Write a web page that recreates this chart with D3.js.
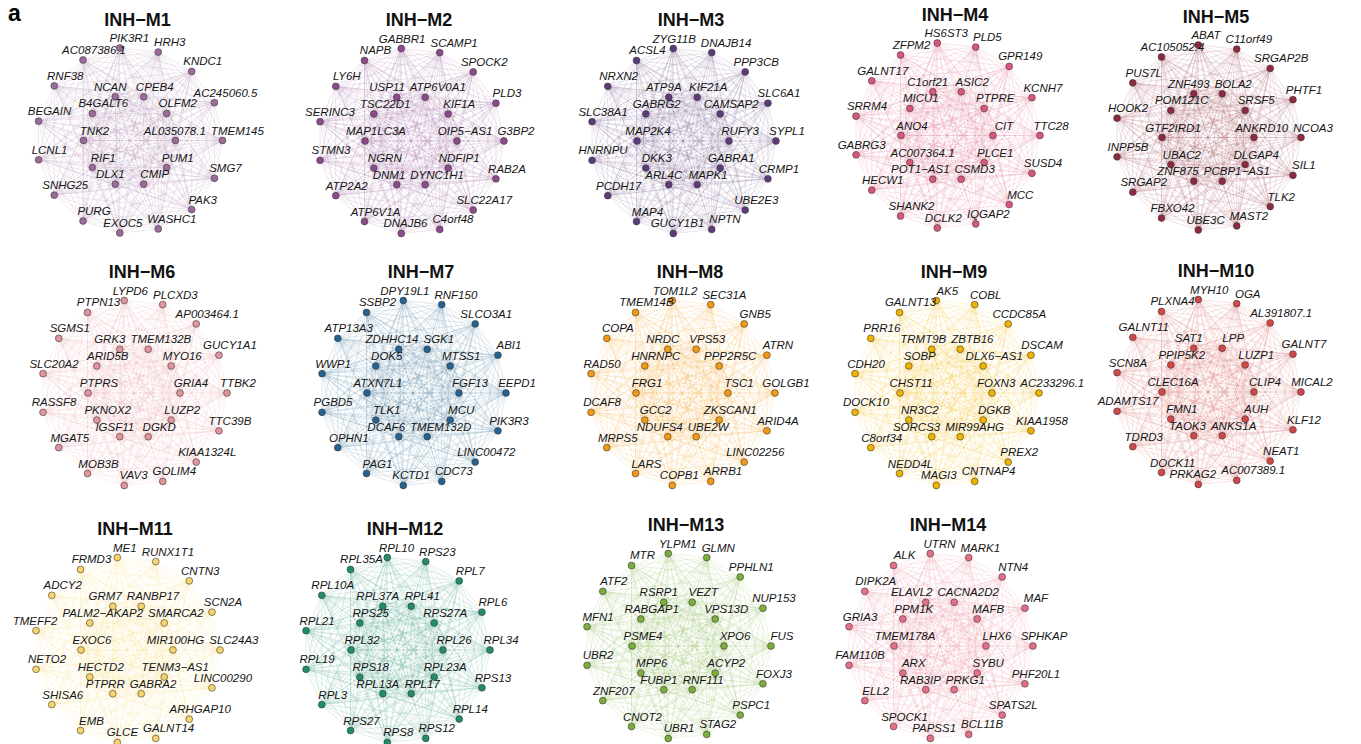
<!DOCTYPE html>
<html>
<head>
  <meta charset="utf-8">
  <style>
    body { margin: 0; background: #fff; font-family: "Liberation Sans", Arial, sans-serif; }
    .edge { fill: none; stroke-width: 0.6px; stroke-opacity: 0.25; }
    .node { stroke: #3a3a3a; stroke-width: 0.6px; }
    .label { font-size: 11.5px; font-style: italic; fill: #151515; text-anchor: middle; }
    .title { font-size: 18px; font-weight: bold; fill: #111; text-anchor: middle; }
  </style>
  <script src="https://d3js.org/d3.v7.min.js"></script>
</head>
<body>
<script>
// module names and colours
const modules = ['INH−M1','INH−M2','INH−M3','INH−M4','INH−M5','INH−M6','INH−M7',
  'INH−M8','INH−M9','INH−M10','INH−M11','INH−M12','INH−M13','INH−M14'];
const moduleColors = ['#9c6b9c','#8c4a8c','#5e3a78','#d9577a','#8e2a3e','#e3939c','#26628f',
  '#f39a12','#f0b400','#d24848','#f7d46a','#1f8c6c','#7cae3c','#e56f86'];

// outer ring genes, clockwise from the top
const outerGenes = [
  ['PIK3R1','HRH3','KNDC1','AC245060.5','TMEM145','SMG7','PAK3','WASHC1','EXOC5','PURG','SNHG25','LCNL1','BEGAIN','RNF38','AC087386.1'],
  ['GABBR1','SCAMP1','SPOCK2','PLD3','G3BP2','RAB2A','SLC22A17','C4orf48','DNAJB6','ATP6V1A','ATP2A2','STMN3','SERINC3','LY6H','NAPB'],
  ['ZYG11B','DNAJB14','PPP3CB','SLC6A1','SYPL1','CRMP1','UBE2E3','NPTN','GUCY1B1','MAP4','PCDH17','HNRNPU','SLC38A1','NRXN2','ACSL4'],
  ['HS6ST3','PLD5','GPR149','KCNH7','TTC28','SUSD4','MCC','IQGAP2','DCLK2','SHANK2','HECW1','GABRG3','SRRM4','GALNT17','ZFPM2'],
  ['ABAT','C11orf49','SRGAP2B','PHTF1','NCOA3','SIL1','TLK2','MAST2','UBE3C','FBXO42','SRGAP2','INPP5B','HOOK2','PUS7L','AC105052.4'],
  ['LYPD6','PLCXD3','AP003464.1','GUCY1A1','TTBK2','TTC39B','KIAA1324L','GOLIM4','VAV3','MOB3B','MGAT5','RASSF8','SLC20A2','SGMS1','PTPN13'],
  ['DPY19L1','RNF150','SLCO3A1','ABI1','EEPD1','PIK3R3','LINC00472','CDC73','KCTD1','PAG1','OPHN1','PGBD5','WWP1','ATP13A3','SSBP2'],
  ['TOM1L2','SEC31A','GNB5','ATRN','GOLGB1','ARID4A','LINC02256','ARRB1','COPB1','LARS','MRPS5','DCAF8','RAD50','COPA','TMEM14B'],
  ['AK5','COBL','CCDC85A','DSCAM','AC233296.1','KIAA1958','PREX2','CNTNAP4','MAGI3','NEDD4L','C8orf34','DOCK10','CDH20','PRR16','GALNT13'],
  ['MYH10','OGA','AL391807.1','GALNT7','MICAL2','KLF12','NEAT1','AC007389.1','PRKAG2','DOCK11','TDRD3','ADAMTS17','SCN8A','GALNT11','PLXNA4'],
  ['ME1','RUNX1T1','CNTN3','SCN2A','SLC24A3','LINC00290','ARHGAP10','GALNT14','GLCE','EMB','SHISA6','NETO2','TMEFF2','ADCY2','FRMD3'],
  ['RPL10','RPS23','RPL7','RPL6','RPL34','RPS13','RPL14','RPS12','RPS8','RPS27','RPL3','RPL19','RPL21','RPL10A','RPL35A'],
  ['YLPM1','GLMN','PPHLN1','NUP153','FUS','FOXJ3','PSPC1','STAG2','UBR1','CNOT2','ZNF207','UBR2','MFN1','ATF2','MTR'],
  ['UTRN','MARK1','NTN4','MAF','SPHKAP','PHF20L1','SPATS2L','BCL11B','PAPSS1','SPOCK1','ELL2','FAM110B','GRIA3','DIPK2A','ALK']
];

// inner ring genes, clockwise from the top
const innerGenes = [
  ['NCAN','CPEB4','OLFM2','AL035078.1','PUM1','CMIP','DLX1','RIF1','TNK2','B4GALT6'],
  ['USP11','ATP6V0A1','KIF1A','OIP5−AS1','NDFIP1','DYNC1H1','DNM1','NGRN','MAP1LC3A','TSC22D1'],
  ['ATP9A','KIF21A','CAMSAP2','RUFY3','GABRA1','MAPK1','ARL4C','DKK3','MAP2K4','GABRG2'],
  ['C1orf21','ASIC2','PTPRE','CIT','PLCE1','CSMD3','POT1−AS1','AC007364.1','ANO4','MICU1'],
  ['ZNF493','BOLA2','SRSF5','ANKRD10','DLGAP4','PCBP1−AS1','ZNF875','UBAC2','GTF2IRD1','POM121C'],
  ['GRK3','TMEM132B','MYO16','GRIA4','LUZP2','DGKD','IGSF11','PKNOX2','PTPRS','ARID5B'],
  ['ZDHHC14','SGK1','MTSS1','FGF13','MCU','TMEM132D','DCAF6','TLK1','ATXN7L1','DOK5'],
  ['NRDC','VPS53','PPP2R5C','TSC1','ZKSCAN1','UBE2W','NDUFS4','GCC2','FRG1','HNRNPC'],
  ['TRMT9B','ZBTB16','DLX6−AS1','FOXN3','DGKB','MIR99AHG','SORCS3','NR3C2','CHST11','SOBP'],
  ['SAT1','LPP','LUZP1','CLIP4','AUH','ANKS1A','TAOK3','FMN1','CLEC16A','PPIP5K2'],
  ['GRM7','RANBP17','SMARCA2','MIR100HG','TENM3−AS1','GABRA2','PTPRR','HECTD2','EXOC6','PALM2−AKAP2'],
  ['RPL37A','RPL41','RPS27A','RPL26','RPL23A','RPL17','RPL13A','RPS18','RPL32','RPS25'],
  ['RSRP1','VEZT','VPS13D','XPO6','ACYP2','RNF111','FUBP1','MPP6','PSME4','RABGAP1'],
  ['ELAVL2','CACNA2D2','MAFB','LHX6','SYBU','PRKG1','RAB3IP','ARX','TMEM178A','PPM1K']
];

// layout: panel centres
const panelCenters = [
  [129.5,140.5],[411,141],[683,141],[947,135.5],[1208,137.5],
  [134,393],[413,393],[682,393],[946,393],[1208,392],
  [127,650],[397,650],[678,646],[940,646]
];

const width = 1361, height = 744;
const rOuter = 93, rInner = 46;
const outerAngle = d3.scaleLinear().domain([0, 15]).range([-6, 354]);
const innerAngle = d3.scaleLinear().domain([0, 10]).range([-18, 342]);
const rad = d => d * Math.PI / 180;

const svg = d3.select('body').append('svg')
  .attr('width', width).attr('height', height)
  .style('display', 'block');

svg.append('text')
  .attr('x', 8).attr('y', 21)
  .style('font-size', '23px').style('font-weight', 'bold')
  .text('a');

// push overlapping labels apart, mostly to the left (like a repel step)
function repel(nodes) {
  const pad = 5, h = 10;
  for (let it = 0; it < 80; it++) {
    let moved = false;
    for (let i = 0; i < nodes.length; i++) {
      for (let j = i + 1; j < nodes.length; j++) {
        let a = nodes[i], b = nodes[j];
        if (Math.abs(a.ly - b.ly) >= h) continue;
        if (a.lx > b.lx) [a, b] = [b, a];
        const ov = (a.lx + a.w / 2 + pad) - (b.lx - b.w / 2);
        if (ov > 0) {
          a.lx -= ov * 0.75;
          b.lx += ov * 0.25;
          moved = true;
        }
      }
    }
    if (!moved) break;
  }
}

modules.forEach((name, m) => {
  const [cx, cy] = panelCenters[m];
  const color = moduleColors[m];
  const nodes = [];
  outerGenes[m].forEach((g, i) => {
    const a = rad(outerAngle(i));
    nodes.push({ name: g, x: cx + rOuter * Math.sin(a), y: cy - rOuter * Math.cos(a), dx: 11 });
  });
  innerGenes[m].forEach((g, i) => {
    const a = rad(innerAngle(i));
    nodes.push({ name: g, x: cx + rInner * Math.sin(a), y: cy - rInner * Math.cos(a),
      dx: (i === 0 || i === 6) ? -5 : 11 });
  });

  // co-expression edges between every pair of hub genes
  const links = [];
  for (let i = 0; i < nodes.length; i++)
    for (let j = i + 1; j < nodes.length; j++)
      links.push([nodes[i], nodes[j]]);

  const g = svg.append('g').attr('class', 'panel');

  g.selectAll('line.edge')
    .data(links)
    .join('line')
    .attr('class', 'edge')
    .attr('x1', d => d[0].x).attr('y1', d => d[0].y)
    .attr('x2', d => d[1].x).attr('y2', d => d[1].y)
    .style('stroke', color);

  g.selectAll('circle.node')
    .data(nodes)
    .join('circle')
    .attr('class', 'node')
    .attr('cx', d => d.x).attr('cy', d => d.y)
    .attr('r', 3.4)
    .style('fill', color);

  const labels = g.selectAll('text.label')
    .data(nodes)
    .join('text')
    .attr('class', 'label')
    .text(d => d.name);

  labels.each(function (d) {
    d.w = this.getComputedTextLength();
    d.lx = d.x + d.dx;
    d.ly = d.y - 6;
  });
  repel(nodes);
  labels.attr('x', d => d.lx).attr('y', d => d.ly);

  g.append('text')
    .attr('class', 'title')
    .attr('x', cx + 8)
    .attr('y', cy - 115)
    .text(name);
});
</script>
</body>
</html>
